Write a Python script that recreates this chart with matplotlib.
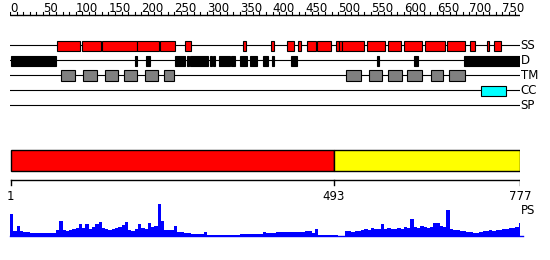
import numpy as np
import matplotlib.pyplot as plt

seq_len = 777
split = 493

# secondary structure (SS) segments, residue start/end
ss_start = [72, 110, 140, 194, 229, 267, 355, 397, 422, 439, 452, 468, 496, 502, 506,
            544, 576, 600, 632, 666, 701, 726, 738]
ss_end = [107, 138, 194, 227, 251, 275, 359, 402, 433, 444, 466, 489, 502, 506, 540,
          571, 596, 628, 663, 693, 709, 730, 748]

# disorder (D) segments
d_start = [1, 190, 207, 252, 269, 274, 305, 310, 318, 337, 350, 365, 385, 399, 428,
           559, 615, 619, 691]
d_end = [70, 194, 213, 267, 272, 301, 307, 312, 335, 343, 361, 376, 393, 402, 437,
         562, 618, 621, 777]

# transmembrane (TM) segments
tm_start = [77, 111, 144, 173, 205, 234, 512, 547, 576, 605, 642, 669]
tm_end = [99, 133, 165, 194, 226, 250, 534, 566, 597, 627, 660, 693]

# coiled coil (CC)
cc_start = [718]
cc_end = [756]

# PS profile, one value per 5 residues
ps_bin = 5
ps_vals = [23, 6, 11, 6, 5, 5, 4, 3.5, 3.5, 3.5, 3.5, 3.5, 3.5, 4, 7, 16, 7, 6, 7, 8,
           9, 13, 9, 13, 8, 10, 13, 15, 9, 8, 7, 8, 9, 10, 12, 15, 7, 6, 8, 13,
           9, 8, 14, 10, 11, 33, 16, 7, 7, 7, 11, 5, 5, 4, 4, 3, 3, 3, 3, 5,
           2, 2, 2, 2, 2, 2, 2, 2, 2, 2, 3, 3, 3, 3, 3, 3, 3, 5, 4, 4,
           4, 5, 5, 5, 5, 5, 5, 5, 5, 5, 6, 6, 4, 8, 2, 2, 2, 2, 2, 2,
           1, 1, 6, 6, 5, 6, 6, 7, 8, 7, 9, 8, 8, 13, 8, 9, 8, 8, 9, 8,
           10, 9, 18, 10, 9, 11, 10, 9, 10, 14, 14, 11, 10, 27, 8, 7, 7, 6, 6, 5,
           5, 4, 4, 5, 6, 6, 7, 6, 7, 7, 8, 8, 9, 9, 10, 14]

tracks = ['SS', 'D', 'TM', 'CC', 'SP']
track_y = [45, 60, 75, 90, 105]

fig = plt.figure(figsize=(5.5, 2.6), dpi=100)
ax = fig.add_axes([10 / 550, 0, 510 / 550, 1])
ax.set_xlim(0, seq_len)
ax.set_ylim(260, 0)
ax.axis('off')

# ruler
ax.plot([0, seq_len], [15, 15], color='black', lw=1, solid_capstyle='butt')
for t in range(0, seq_len, 10):
    ax.plot([t, t], [15, 11.5], color='black', lw=0.8)
for t in range(0, seq_len, 50):
    ax.text(t, 1.5, str(t), ha='left', va='top', fontsize=8.5)

# tracks
for name, y in zip(tracks, track_y):
    ax.plot([0, seq_len], [y, y], color='black', lw=0.8, zorder=1)
    ax.text(seq_len + 1, y + 0.5, name, ha='left', va='center', fontsize=8.5,
            clip_on=False)


def boxes(starts, ends, y, h, fc, ec):
    s = np.array(starts)
    e = np.array(ends)
    ax.barh(y, e - s, left=s, height=h, color=fc, edgecolor=ec, lw=0.8,
            zorder=2)


boxes(ss_start, ss_end, 45.5, 10, '#ff0000', 'black')
boxes(d_start, d_end, 60.5, 10, 'black', 'black')
boxes(tm_start, tm_end, 75, 11, '#808080', 'black')
boxes(cc_start, cc_end, 90.5, 10, '#00ffff', 'black')

# domain bar
ax.barh(160.3, split - 1, left=1, height=20.5, color='#ff0000', edgecolor='black',
        lw=1)
ax.barh(160.3, seq_len - split, left=split, height=20.5, color='#ffff00',
        edgecolor='black', lw=1)

# position axis
ax.plot([1, seq_len], [180, 180], color='black', lw=1)
for p in [1, split, seq_len]:
    ax.plot([p, p], [180, 185], color='black', lw=1)
    ax.text(p, 196, str(p), ha='center', va='center', fontsize=8.5)
ax.text(seq_len + 1, 211, 'PS', ha='left', va='center', fontsize=8.5,
        clip_on=False)

# PS profile
prof = fig.add_axes([10 / 550, 24 / 260, 510 / 550, 40 / 260])
prof.set_xlim(0, seq_len)
prof.set_ylim(0.5, 40.5)
prof.axis('off')
edges = np.arange(len(ps_vals) + 1) * ps_bin
prof.stairs(ps_vals, edges, baseline=0, fill=True, color='#0000ff')
prof.plot([0, seq_len + 4], [0.6, 0.6], color='#0000ff', lw=1, clip_on=False)

fig.savefig('out.png', dpi=100)
